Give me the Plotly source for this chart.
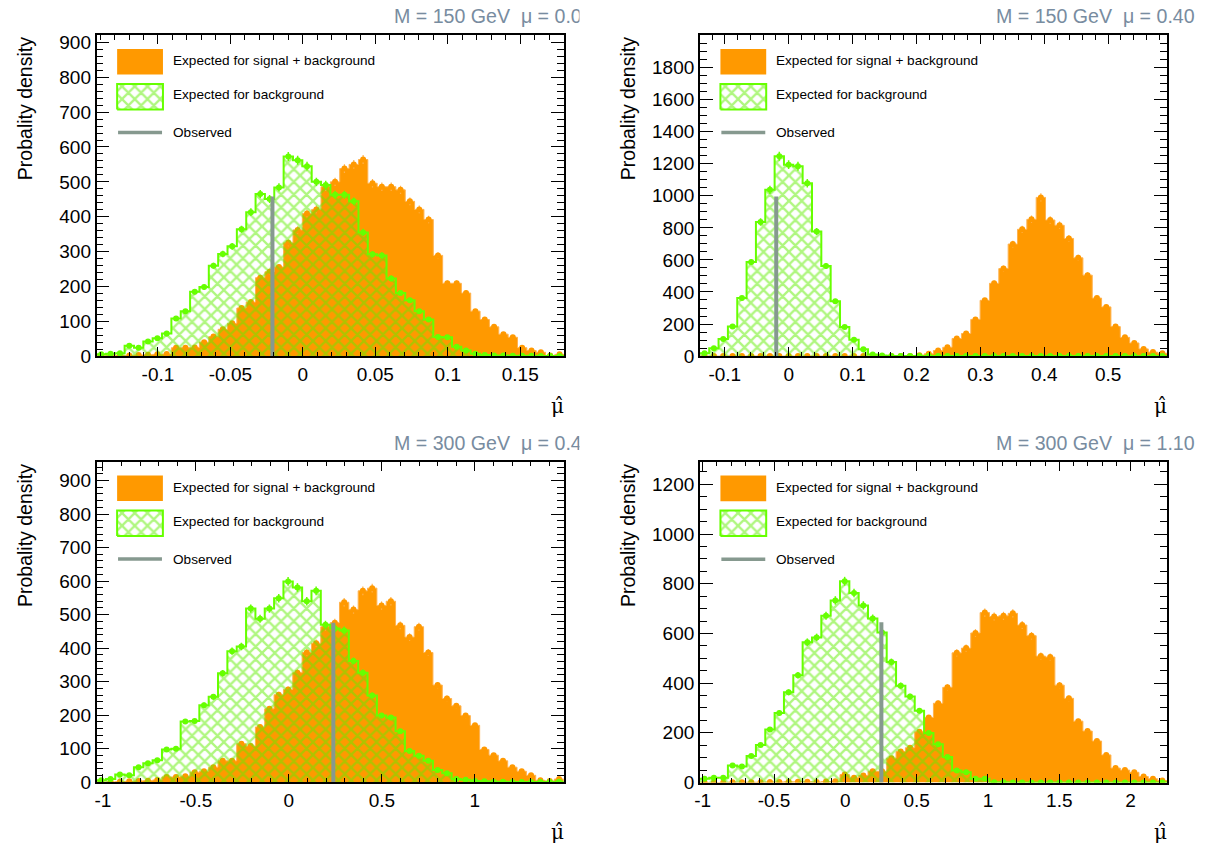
import numpy as np
import plotly.graph_objects as go

# ---------------- data ----------------
panel_titles = ["M = 150 GeV  \u03bc = 0.04", "M = 150 GeV  \u03bc = 0.40",
                "M = 300 GeV  \u03bc = 0.40", "M = 300 GeV  \u03bc = 1.10"]
legend_labels = ["Expected for signal + background", "Expected for background", "Observed"]
y_title = "Probality density"
x_title = "\u03bc\u0302"

n_bins = 50
p1_range = [-0.1424, 0.1804]
p2_range = [-0.139, 0.592]
p3_range = [-1.034, 1.478]
p4_range = [-1.020, 2.255]

p1_sigbkg = [1, 1, 2, 2, 3, 4, 5, 6, 24, 24, 25, 40, 56, 77, 94, 138, 155, 225, 242, 256,
             325, 362, 409, 421, 486, 500, 538, 550, 564, 496, 486, 486, 477, 444, 421, 392, 289, 209, 209, 181,
             129, 105, 84, 63, 54, 24, 16, 11, 2, 5]
p1_bkg = [5, 7, 8, 30, 24, 42, 51, 65, 108, 129, 185, 198, 259, 293, 315, 364, 413, 465, 451, 484,
          573, 562, 545, 500, 491, 463, 463, 444, 355, 292, 289, 223, 181, 160, 129, 105, 55, 54, 27, 16,
          7, 3, 2, 2, 1, 1, 1, 0, 0, 0]

p2_sigbkg = [0, 0, 0, 0, 0, 0, 0, 0, 0, 0, 0, 0, 0, 0, 0, 0, 0, 0, 0, 0,
             0, 0, 1, 5, 14, 35, 55, 110, 141, 229, 348, 454, 546, 699, 791, 853, 990, 849, 816, 734,
             613, 505, 362, 307, 184, 117, 82, 45, 25, 18]
p2_bkg = [18, 49, 106, 184, 362, 587, 836, 1037, 1247, 1194, 1184, 1078, 777, 562, 342, 182, 102, 43, 10, 4,
          1, 0, 0, 0, 0, 0, 0, 0, 0, 0, 0, 0, 0, 0, 0, 0, 0, 0, 0, 0,
          0, 0, 0, 0, 0, 0, 0, 0, 0, 0]

p3_sigbkg = [1, 1, 2, 3, 4, 5, 7, 16, 16, 18, 30, 33, 45, 64, 64, 115, 108, 165, 219, 261,
             277, 327, 387, 415, 464, 476, 537, 515, 571, 579, 527, 540, 468, 433, 464, 387, 290, 250, 228, 199,
             170, 98, 81, 64, 45, 33, 21, 6, 4, 10]
p3_bkg = [6, 10, 23, 21, 45, 57, 66, 98, 100, 181, 183, 230, 255, 325, 391, 405, 518, 488, 518, 549,
          599, 581, 540, 571, 470, 459, 453, 362, 327, 259, 199, 193, 152, 93, 79, 64, 37, 27, 10, 8,
          4, 3, 2, 2, 1, 1, 1, 1, 1, 2]

p4_sigbkg = [0, 0, 0, 1, 1, 1, 1, 2, 2, 3, 3, 3, 2, 4, 5, 32, 19, 28, 45, 45,
             98, 125, 140, 204, 262, 319, 383, 522, 541, 602, 684, 668, 671, 681, 634, 591, 509, 505, 392, 339,
             247, 207, 167, 111, 58, 50, 41, 24, 15, 8]
p4_bkg = [15, 19, 19, 68, 64, 107, 151, 213, 280, 363, 432, 565, 584, 671, 733, 810, 763, 713, 660, 604,
          485, 390, 346, 289, 199, 154, 103, 48, 41, 15, 15, 1, 1, 0, 0, 0, 0, 0, 0, 0,
          0, 0, 0, 0, 0, 0, 0, 0, 0, 0]

observed_mu = [-0.021, -0.0195, 0.239, 0.2526]
observed_height = [458, 996, 476, 645]

p1_xticks = [-0.1, -0.05, 0, 0.05, 0.1, 0.15]
p1_xlabels = ["-0.1", "-0.05", "0", "0.05", "0.1", "0.15"]
p2_xticks = [-0.1, 0, 0.1, 0.2, 0.3, 0.4, 0.5]
p2_xlabels = ["-0.1", "0", "0.1", "0.2", "0.3", "0.4", "0.5"]
p3_xticks = [-1, -0.5, 0, 0.5, 1]
p3_xlabels = ["-1", "-0.5", "0", "0.5", "1"]
p4_xticks = [-1, -0.5, 0, 0.5, 1, 1.5, 2]
p4_xlabels = ["-1", "-0.5", "0", "0.5", "1", "1.5", "2"]
p1_yticks = [0, 100, 200, 300, 400, 500, 600, 700, 800, 900]
p2_yticks = [0, 200, 400, 600, 800, 1000, 1200, 1400, 1600, 1800]
p3_yticks = [0, 100, 200, 300, 400, 500, 600, 700, 800, 900]
p4_yticks = [0, 200, 400, 600, 800, 1000, 1200]
y_max = [920, 2000, 955, 1290]

# ---------------- styling ----------------
W, H = 1222, 854
ORANGE = "#ff9900"
ORANGE_EDGE = "#ffb24d"
GREEN = "#66ff00"
HATCH = "#5fee00"
GRAY = "#86998f"
TITLE_COL = "rgb(120,140,160)"
FONT = "Liberation Sans, Arial, Helvetica, sans-serif"

frames = [(91, 561, 33, 359), (697.3, 1166.7, 33, 359),
          (91, 560.5, 466.7, 792.3), (697.3, 1166.7, 466.7, 792.5)]
minor_x = [0.01, 0.02, 0.1, 0.1]
minor_y = [20, 50, 20, 50]
err_scale = [0.54, 0.8, 0.54, 0.63]

ranges = [p1_range, p2_range, p3_range, p4_range]
sigbkg = [p1_sigbkg, p2_sigbkg, p3_sigbkg, p4_sigbkg]
bkg = [p1_bkg, p2_bkg, p3_bkg, p4_bkg]
xticks = [p1_xticks, p2_xticks, p3_xticks, p4_xticks]
xlabels = [p1_xlabels, p2_xlabels, p3_xlabels, p4_xlabels]
yticks = [p1_yticks, p2_yticks, p3_yticks, p4_yticks]

pattern = dict(shape="x", fgcolor=HATCH, bgcolor="rgba(0,0,0,0)", size=9, solidity=0.45, fillmode="overlay")

fig = go.Figure()
layout = dict(width=W, height=H, margin=dict(l=0, r=0, t=0, b=0),
              paper_bgcolor="white", plot_bgcolor="white", showlegend=False)
annotations = []
covers = []

for i in range(4):
    k = i + 1
    xa = "x" if k == 1 else f"x{k}"
    ya = "y" if k == 1 else f"y{k}"
    ox, oy = f"x{k + 4}", f"y{k + 4}"
    lo, hi = ranges[i]
    edges = np.linspace(lo, hi, n_bins + 1)
    centers = 0.5 * (edges[:-1] + edges[1:])
    sb = np.array(sigbkg[i], dtype=float)
    b = np.array(bkg[i], dtype=float)

    # signal + background (filled orange)
    fig.add_trace(go.Scatter(x=edges, y=np.append(sb, sb[-1]), mode="lines",
                             line=dict(shape="hv", color=ORANGE_EDGE, width=1),
                             fill="tozeroy", fillcolor=ORANGE, xaxis=xa, yaxis=ya, hoverinfo="skip"))
    fig.add_trace(go.Scatter(x=centers, y=sb, mode="markers", marker=dict(size=0, color=ORANGE),
                             error_y=dict(type="data", array=err_scale[i] * np.sqrt(sb),
                                          color=ORANGE_EDGE, thickness=1.2, width=0),
                             xaxis=xa, yaxis=ya, hoverinfo="skip"))
    # background (hatched green)
    fig.add_trace(go.Scatter(x=edges, y=np.append(b, b[-1]), mode="lines",
                             line=dict(shape="hv", color=GREEN, width=2),
                             fill="tozeroy", fillcolor="rgba(0,0,0,0)", fillpattern=pattern,
                             xaxis=xa, yaxis=ya, hoverinfo="skip"))
    fig.add_trace(go.Scatter(x=centers, y=b, mode="markers", marker=dict(size=0, color=GREEN),
                             error_y=dict(type="data", array=err_scale[i] * np.sqrt(b),
                                          color=GREEN, thickness=1.5, width=0),
                             xaxis=xa, yaxis=ya, hoverinfo="skip"))
    # observed value
    fig.add_trace(go.Scatter(x=[observed_mu[i], observed_mu[i]], y=[0, observed_height[i]], mode="lines",
                             line=dict(color=GRAY, width=4), xaxis=xa, yaxis=ya, hoverinfo="skip"))

    # legend glyphs in an overlay [0,1] system
    lx0, lx1 = 0.044, 0.142
    fig.add_trace(go.Scatter(x=[lx0, lx1, lx1, lx0, lx0], y=[0.878, 0.878, 0.958, 0.958, 0.878],
                             mode="lines", line=dict(width=0, color=ORANGE), fill="toself",
                             fillcolor=ORANGE, xaxis=ox, yaxis=oy, hoverinfo="skip"))
    fig.add_trace(go.Scatter(x=[lx0, lx1, lx1, lx0, lx0], y=[0.769, 0.769, 0.849, 0.849, 0.769],
                             mode="lines", line=dict(width=2, color=GREEN), fill="toself",
                             fillcolor="rgba(0,0,0,0)", fillpattern=pattern,
                             xaxis=ox, yaxis=oy, hoverinfo="skip"))
    fig.add_trace(go.Scatter(x=[lx0 + 0.002, lx1 - 0.002], y=[0.697, 0.697], mode="lines",
                             line=dict(width=3.5, color=GRAY), xaxis=ox, yaxis=oy, hoverinfo="skip"))
    for txt, yy in zip(legend_labels, [0.922, 0.815, 0.697]):
        annotations.append(dict(text=txt, xref=f"{xa} domain", yref=f"{ya} domain", x=0.1596, y=yy,
                                xanchor="left", yanchor="middle", showarrow=False,
                                font=dict(family=FONT, size=13.6, color="black")))

    l, r, t, bt = frames[i]
    common = dict(showgrid=False, zeroline=False, showline=True, linecolor="black", linewidth=1.5,
                  mirror="allticks", ticks="inside", tickcolor="black", tickwidth=1,
                  tickfont=dict(family=FONT, size=19, color="black"))
    layout["xaxis" if k == 1 else f"xaxis{k}"] = dict(
        domain=[l / W, r / W], range=[lo, hi], anchor=ya,
        tickmode="array", tickvals=xticks[i], ticktext=xlabels[i], ticklen=9,
        minor=dict(tickmode="linear", tick0=0, dtick=minor_x[i], ticklen=4.5, ticks="inside",
                   tickcolor="black", tickwidth=1, showgrid=False),
        **common)
    layout["yaxis" if k == 1 else f"yaxis{k}"] = dict(
        domain=[1 - bt / H, 1 - t / H], range=[0, y_max[i]], anchor=xa,
        tickmode="array", tickvals=yticks[i], ticktext=[str(v) for v in yticks[i]], ticklen=13,
        minor=dict(tickmode="linear", tick0=0, dtick=minor_y[i], ticklen=7, ticks="inside",
                   tickcolor="black", tickwidth=1, showgrid=False),
        **common)
    layout[f"xaxis{k + 4}"] = dict(overlaying=xa, range=[0, 1], visible=False, anchor=oy)
    layout[f"yaxis{k + 4}"] = dict(overlaying=ya, range=[0, 1], visible=False, anchor=ox)

    left_panel = (i % 2 == 0)
    top_panel = (i < 2)
    annotations.append(dict(text=y_title, xref="paper", yref="paper",
                            x=(19 if left_panel else 625) / W, y=1 - (107 if top_panel else 541) / H,
                            xanchor="center", yanchor="middle", textangle=-90, showarrow=False,
                            font=dict(family=FONT, size=19.5, color="black")))
    annotations.append(dict(text=x_title, xref="paper", yref="paper",
                            x=(554 if left_panel else 1160) / W, y=1 - (410 if top_panel else 843) / H,
                            xanchor="center", yanchor="middle", showarrow=False,
                            font=dict(family="DejaVu Serif", size=20, color="black")))
    ty = 1 - (13 if top_panel else 447) / H
    if left_panel:
        annotations.append(dict(text=panel_titles[i], xref="paper", yref="paper", x=388 / W, y=ty,
                                xanchor="left", yanchor="middle", showarrow=False,
                                font=dict(family=FONT, size=19.6, color=TITLE_COL)))
        # the reference pad clips the end of this title
        covers.append(dict(text=" ", xref="paper", yref="paper", x=576 / W, y=ty, width=34, height=28,
                           xanchor="left", yanchor="middle", showarrow=False, bgcolor="white",
                           borderpad=0, font=dict(size=10)))
    else:
        annotations.append(dict(text=panel_titles[i], xref="paper", yref="paper", x=1197 / W, y=ty,
                                xanchor="right", yanchor="middle", showarrow=False,
                                font=dict(family=FONT, size=19.6, color=TITLE_COL)))

layout["annotations"] = annotations + covers
fig.update_layout(**layout)
fig.write_html("out.html", config={"displayModeBar": False},
               post_script="document.body.style.margin='0px';")
